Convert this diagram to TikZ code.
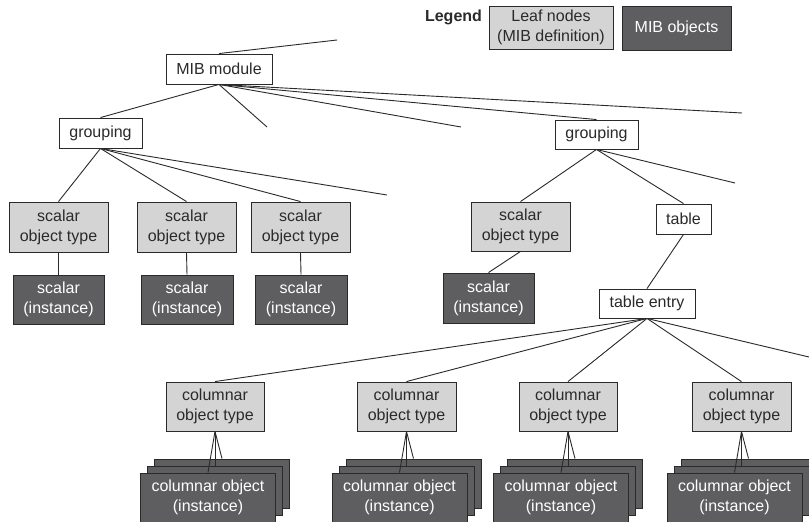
\documentclass[tikz,border=0pt]{standalone}
\usepackage{fontspec}
\setmainfont{Liberation Sans}
\definecolor{lightfill}{HTML}{D4D4D4}
\definecolor{darkfill}{HTML}{5E5E60}
\definecolor{edge}{HTML}{2A2A2A}
\tikzset{
  base/.style={draw=edge, line width=0.9pt, inner sep=0pt, align=center, font=\fontsize{16}{20}\selectfont},
  whitebox/.style={base, fill=white, text=edge},
  lightbox/.style={base, fill=lightfill, text=edge},
  darkbox/.style={base, fill=darkfill, text=white},
  conn/.style={draw=edge, line width=0.9pt},
}
\newcommand{\colstack}[2]{%
  \node[darkbox, minimum width=135pt, minimum height=49pt] (#1b) at (#2+7,483.5) {};
  \node[darkbox, minimum width=135pt, minimum height=49pt] (#1m) at (#2,490.5) {};
  \node[darkbox, minimum width=135pt, minimum height=49pt] (#1f) at (#2-7,497.5) {columnar object\\(instance)};
}
\begin{document}
\begin{tikzpicture}[x=1pt,y=-1pt]
\useasboundingbox (0,0) rectangle (809,522);
\clip (0,0) rectangle (809,522);
\fill[white] (0,0) rectangle (809,522);

% legend
\node[font=\fontsize{16}{20}\selectfont\bfseries, text=edge] (legend) at (453.5,17) {Legend};
\node[lightbox, minimum width=124pt, minimum height=43pt] (leaf) at (551,27.5) {Leaf nodes\\(MIB definition)};
\node[darkbox, minimum width=109pt, minimum height=44pt] (mibobj) at (676.5,28) {MIB objects};

% dangling ends
\coordinate (up) at (337,40);
\coordinate (m1) at (267,127);
\coordinate (m2) at (461,127);
\coordinate (m3) at (742,113);
\coordinate (g1x) at (387,195);
\coordinate (g2x) at (735,183);
\coordinate (tex) at (809,357);

% nodes
\node[whitebox, minimum width=106pt, minimum height=30pt] (mib) at (219,69) {MIB module};
\node[whitebox, minimum width=83pt, minimum height=30pt] (g1) at (100.5,133) {grouping};
\node[whitebox, minimum width=83pt, minimum height=29pt] (g2) at (596.5,134.5) {grouping};

\node[lightbox, minimum width=99pt, minimum height=50pt] (s1) at (58.5,227) {scalar\\object type};
\node[lightbox, minimum width=99pt, minimum height=50pt] (s2) at (186.5,227) {scalar\\object type};
\node[lightbox, minimum width=99pt, minimum height=50pt] (s3) at (300.5,227) {scalar\\object type};
\node[lightbox, minimum width=99pt, minimum height=49pt] (s4) at (520.5,226.5) {scalar\\object type};

\node[darkbox, minimum width=91pt, minimum height=49pt] (i1) at (58.5,299.5) {scalar\\(instance)};
\node[darkbox, minimum width=92pt, minimum height=49pt] (i2) at (187,299.5) {scalar\\(instance)};
\node[darkbox, minimum width=92pt, minimum height=49pt] (i3) at (301,299.5) {scalar\\(instance)};
\node[darkbox, minimum width=91pt, minimum height=50pt] (i4) at (488.5,298) {scalar\\(instance)};

\node[whitebox, minimum width=55pt, minimum height=30pt] (table) at (683.5,219) {table};
\node[whitebox, minimum width=96pt, minimum height=29pt] (te) at (647,303.5) {table entry};

\node[lightbox, minimum width=98pt, minimum height=49pt] (c1) at (215,406.5) {columnar\\object type};
\node[lightbox, minimum width=99pt, minimum height=49pt] (c2) at (406.5,406.5) {columnar\\object type};
\node[lightbox, minimum width=98pt, minimum height=49pt] (c3) at (568,406.5) {columnar\\object type};
\node[lightbox, minimum width=99pt, minimum height=49pt] (c4) at (741.5,406.5) {columnar\\object type};

\colstack{ca}{215}
\colstack{cb}{406.5}
\colstack{cc}{568}
\colstack{cd}{741.5}

% connectors
\draw[conn] (mib.north) -- (up);
\draw[conn] (mib.south) -- (g1.north);
\draw[conn] (mib.south) -- (m1);
\draw[conn] (mib.south) -- (m2);
\draw[conn] (mib.south) -- (g2.north);
\draw[conn] (mib.south) -- (m3);

\draw[conn] (g1.south) -- (s1.north);
\draw[conn] (g1.south) -- (s2.north);
\draw[conn] (g1.south) -- (s3.north);
\draw[conn] (g1.south) -- (g1x);

\draw[conn] (g2.south) -- (s4.north);
\draw[conn] (g2.south) -- (table.north);
\draw[conn] (g2.south) -- (g2x);

\draw[conn] (s1.south) -- (i1.north);
\draw[conn] (s2.south) -- (i2.north);
\draw[conn] (s3.south) -- (i3.north);
\draw[conn] (s4.south) -- (i4.north);

\draw[conn] (table.south) -- (te.north);
\draw[conn] (te.south) -- (c1.north);
\draw[conn] (te.south) -- (c2.north);
\draw[conn] (te.south) -- (c3.north);
\draw[conn] (te.south) -- (c4.north);
\draw[conn] (te.south) -- (tex);

\foreach \c/\s in {c1/ca, c2/cb, c3/cc, c4/cd} {
  \draw[conn] (\c.south) -- (\s b.north);
  \draw[conn] (\c.south) -- (\s m.north);
  \draw[conn] (\c.south) -- (\s f.north);
}
\end{tikzpicture}
\end{document}
